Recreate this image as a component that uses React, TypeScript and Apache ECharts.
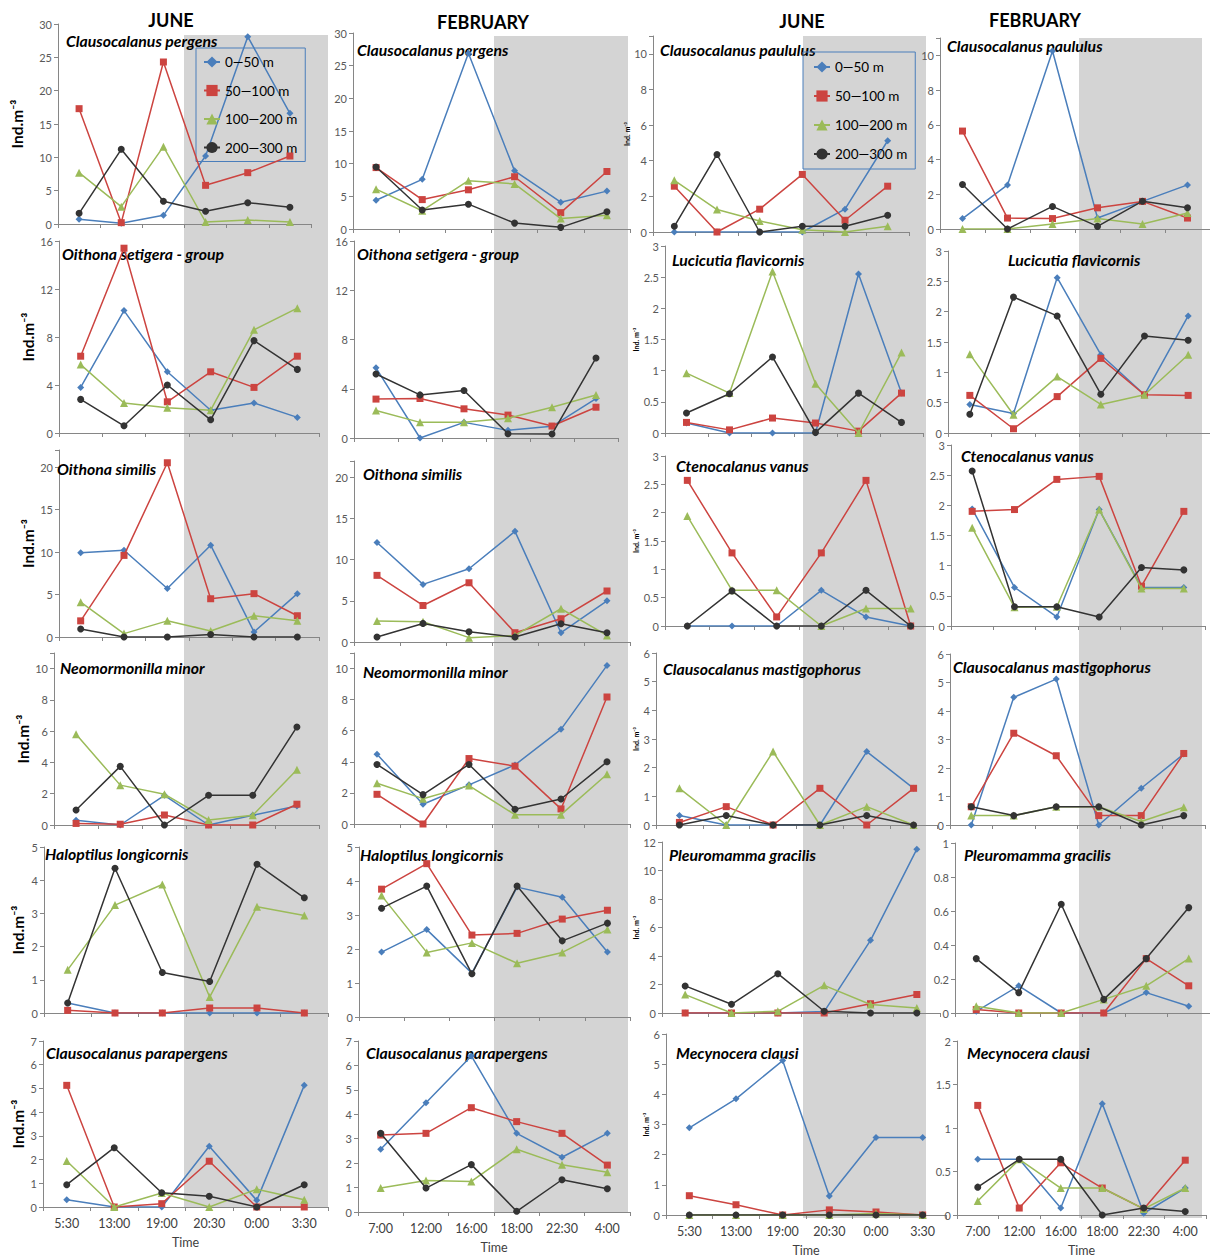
import React, { useEffect, useRef } from 'react';
import * as echarts from 'echarts';

const juneTimes = ['5:30', '13:00', '19:00', '20:30', '0:00', '3:30'];
const febTimes = ['7:00', '12:00', '16:00', '18:00', '22:30', '4:00'];
const depthLayers = ['0—50 m', '50—100 m', '100—200 m', '200—300 m'];
const monthHeaders = ['JUNE', 'FEBRUARY', 'JUNE', 'FEBRUARY'];

// each panel: rows = depth layers (0–50, 50–100, 100–200, 200–300 m)
const junClausocalanusPergens = [
  [0.7, 0.1, 1.3, 10.2, 28.1, 16.6],
  [17.3, 0.2, 24.3, 5.8, 7.7, 10.2],
  [7.7, 2.6, 11.6, 0.3, 0.6, 0.3],
  [1.6, 11.2, 3.4, 1.9, 3.2, 2.5],
];
const junOithonaSetigera = [
  [3.8, 10.2, 5.1, 1.9, 2.5, 1.3],
  [6.4, 15.4, 2.6, 5.1, 3.8, 6.4],
  [5.7, 2.5, 2.1, 1.9, 8.6, 10.4],
  [2.8, 0.6, 4.0, 1.1, 7.7, 5.3],
];
const junOithonaSimilis = [
  [9.9, 10.2, 5.7, 10.8, 0.6, 5.1],
  [1.9, 9.6, 20.5, 4.5, 5.1, 2.5],
  [4.1, 0.4, 1.9, 0.7, 2.5, 1.9],
  [0.95, 0, 0, 0.3, 0, 0],
];
const junNeomormonillaMinor = [
  [0.3, 0, 1.9, 0, 0.62, 1.22],
  [0.1, 0.05, 0.64, 0, 0, 1.33],
  [5.8, 2.55, 1.97, 0.32, 0.62, 3.53],
  [0.96, 3.75, 0, 1.9, 1.9, 6.27],
];
const junHaloptilusLongicornis = [
  [0.3, 0, 0, 0, 0, 0],
  [0.08, 0, 0, 0.15, 0.15, 0],
  [1.3, 3.25, 3.87, 0.48, 3.2, 2.94],
  [0.3, 4.36, 1.22, 0.95, 4.48, 3.47],
];
const junClausocalanusParapergens = [
  [0.31, 0, 0, 2.56, 0.28, 5.13],
  [5.13, 0, 0.14, 1.93, 0, 0],
  [1.94, 0, 0.59, 0, 0.75, 0.31],
  [0.94, 2.5, 0.6, 0.45, 0, 0.94],
];
const febClausocalanusPergens = [
  [4.4, 7.6, 26.9, 8.9, 4.1, 5.8],
  [9.4, 4.5, 6.0, 8.0, 2.5, 8.8],
  [6.1, 2.8, 7.4, 6.9, 1.6, 2.1],
  [9.5, 2.9, 3.8, 0.9, 0.25, 2.65],
];
const febOithonaSetigera = [
  [5.7, 0, 1.27, 0.62, 0.95, 3.2],
  [3.16, 3.21, 2.37, 1.86, 0.97, 2.5],
  [2.24, 1.27, 1.27, 1.6, 2.5, 3.5],
  [5.2, 3.5, 3.86, 0.35, 0.32, 6.5],
];
const febOithonaSimilis = [
  [12.1, 7.0, 8.9, 13.45, 1.13, 5.0],
  [8.1, 4.44, 7.2, 1.13, 2.83, 6.2],
  [2.55, 2.46, 0.53, 0.8, 4.04, 0.8],
  [0.6, 2.26, 1.25, 0.6, 2.22, 1.13],
];
const febNeomormonillaMinor = [
  [4.49, 1.27, 2.52, 3.8, 6.09, 10.2],
  [1.91, 0, 4.21, 3.72, 0.97, 8.17],
  [2.62, 1.63, 2.47, 0.6, 0.6, 3.2],
  [3.83, 1.89, 3.83, 0.95, 1.61, 4.0],
];
const febHaloptilusLongicornis = [
  [1.91, 2.57, 1.29, 3.82, 3.52, 1.91],
  [3.76, 4.51, 2.41, 2.46, 2.88, 3.14],
  [3.57, 1.9, 2.18, 1.58, 1.9, 2.57],
  [3.2, 3.85, 1.27, 3.85, 2.24, 2.76],
];
const febClausocalanusParapergens = [
  [2.57, 4.47, 6.39, 3.22, 2.24, 3.22],
  [3.15, 3.22, 4.27, 3.7, 3.22, 1.92],
  [0.98, 1.29, 1.25, 2.57, 1.93, 1.63],
  [3.22, 0.98, 1.94, 0.03, 1.32, 0.95],
];
const junClausocalanusPaululus = [
  [0, 0, 0, 0, 1.28, 5.12],
  [2.57, 0, 1.28, 3.23, 0.66, 2.57],
  [2.9, 1.26, 0.62, 0.13, 0, 0.32],
  [0.32, 4.35, 0, 0.32, 0.32, 0.94],
];
const junLucicutiaFlavicornis = [
  [0.16, 0, 0, 0, 2.55, 0.64],
  [0.17, 0.05, 0.24, 0.16, 0.03, 0.64],
  [0.96, 0.64, 2.59, 0.79, 0, 1.29],
  [0.32, 0.63, 1.22, 0.01, 0.64, 0.17],
];
const junCtenocalanusVanus = [
  [0, 0, 0, 0.63, 0.16, 0],
  [2.57, 1.29, 0.16, 1.29, 2.57, 0],
  [1.94, 0.63, 0.63, 0, 0.31, 0.31],
  [0, 0.62, 0, 0, 0.63, 0],
];
const junClausocalanusMastigophorus = [
  [0.33, 0, 0, 0, 2.56, 1.28],
  [0.09, 0.64, 0, 1.28, 0, 1.28],
  [1.28, 0, 2.56, 0, 0.64, 0],
  [0, 0.33, 0, 0, 0.33, 0],
];
const junPleuromammaGracilis = [
  [0, 0, 0, 0.1, 5.1, 11.5],
  [0, 0, 0, 0, 0.65, 1.3],
  [1.29, 0, 0.12, 1.94, 0.6, 0.35],
  [1.9, 0.61, 2.76, 0.12, 0, 0],
];
const junMecynoceraClausi = [
  [2.89, 3.85, 5.12, 0.63, 2.57, 2.57],
  [0.64, 0.34, 0, 0.17, 0.1, 0],
  [0, 0, 0, 0, 0.05, 0],
  [0, 0, 0, 0, 0, 0],
];
const febClausocalanusPaululus = [
  [0.6, 2.54, 10.25, 0.63, 1.59, 2.54],
  [5.64, 0.63, 0.6, 1.22, 1.59, 0.63],
  [0, 0, 0.29, 0.6, 0.29, 0.92],
  [2.56, 0, 1.3, 0.15, 1.6, 1.22],
];
const febLucicutiaFlavicornis = [
  [0.47, 0.32, 2.56, 1.29, 0.63, 1.93],
  [0.62, 0.07, 0.6, 1.23, 0.63, 0.62],
  [1.3, 0.3, 0.93, 0.47, 0.63, 1.29],
  [0.31, 2.24, 1.93, 0.64, 1.6, 1.53],
];
const febCtenocalanusVanus = [
  [1.94, 0.64, 0.15, 1.93, 0.64, 0.64],
  [1.9, 1.93, 2.43, 2.48, 0.66, 1.9],
  [1.63, 0.31, 0.32, 1.93, 0.62, 0.62],
  [2.57, 0.32, 0.32, 0.15, 0.97, 0.93],
];
const febClausocalanusMastigophorus = [
  [0, 4.48, 5.12, 0, 1.29, 2.49],
  [0.64, 3.22, 2.43, 0.33, 0.33, 2.51],
  [0.33, 0.33, 0.64, 0.64, 0.12, 0.62],
  [0.64, 0.33, 0.64, 0.64, 0, 0.33],
];
const febPleuromammaGracilis = [
  [0.01, 0.16, 0, 0, 0.12, 0.04],
  [0.02, 0, 0, 0, 0.32, 0.16],
  [0.04, 0, 0, 0.08, 0.16, 0.32],
  [0.32, 0.12, 0.64, 0.08, 0.32, 0.62],
];
const febMecynoceraClausi = [
  [0.64, 0.64, 0.08, 1.28, 0.02, 0.31],
  [1.26, 0.08, 0.6, 0.31, 0.07, 0.63],
  [0.16, 0.64, 0.31, 0.31, 0.07, 0.31],
  [0.32, 0.64, 0.64, 0, 0.08, 0.04],
];

// layout: g = [left, top, right, bottom] of the plot area
const panels = [
  { d: junClausocalanusPergens, n: 'Clausocalanus pergens', t: juneTimes, g: [58, 24, 311, 224], max: 30, step: 5, tx: 66, ty: 40, yl: 'big', gap: 33 },
  { d: junOithonaSetigera, n: 'Oithona setigera - group', t: juneTimes, g: [59, 241, 319, 433], max: 16, step: 4, tx: 62, ty: 253, yl: 'big', gap: 23 },
  { d: junOithonaSimilis, n: 'Oithona similis', t: juneTimes, g: [59, 450, 319, 637], max: 22, step: 5, tx: 57, ty: 468, yl: 'big', gap: 23 },
  { d: junNeomormonillaMinor, n: 'Neomormonilla minor', t: juneTimes, g: [54, 653, 319, 825], max: 11, step: 2, tx: 60, ty: 667, yl: 'big', gap: 23 },
  { d: junHaloptilusLongicornis, n: 'Haloptilus longicornis', t: juneTimes, g: [44, 847, 328, 1013], max: 5, step: 1, tx: 45, ty: 853, yl: 'big', gap: 18 },
  { d: junClausocalanusParapergens, n: 'Clausocalanus parapergens', t: juneTimes, g: [43, 1041, 328, 1207], max: 7, step: 1, tx: 46, ty: 1052, yl: 'big', gap: 17, bottom: true },

  { d: febClausocalanusPergens, n: 'Clausocalanus pergens', t: febTimes, g: [353, 33, 630, 229], max: 30, step: 5, tx: 357, ty: 49 },
  { d: febOithonaSetigera, n: 'Oithona setigera - group', t: febTimes, g: [354, 241, 618, 438], max: 16, step: 4, tx: 357, ty: 253 },
  { d: febOithonaSimilis, n: 'Oithona similis', t: febTimes, g: [354, 461, 630, 642], max: 22, step: 5, tx: 363, ty: 473 },
  { d: febNeomormonillaMinor, n: 'Neomormonilla minor', t: febTimes, g: [354, 653, 630, 824], max: 11, step: 2, tx: 363, ty: 671 },
  { d: febHaloptilusLongicornis, n: 'Haloptilus longicornis', t: febTimes, g: [359, 847, 630, 1017], max: 5, step: 1, tx: 360, ty: 854 },
  { d: febClausocalanusParapergens, n: 'Clausocalanus parapergens', t: febTimes, g: [358, 1041, 630, 1212], max: 7, step: 1, tx: 366, ty: 1052, bottom: true },

  { d: junClausocalanusPaululus, n: 'Clausocalanus paululus', t: juneTimes, g: [653, 36, 909, 232], max: 11, step: 2, tx: 660, ty: 49, yl: 'small', gap: 14 },
  { d: junLucicutiaFlavicornis, n: 'Lucicutia flavicornis', t: juneTimes, g: [665, 246, 923, 433], max: 3, step: 0.5, tx: 672, ty: 259, yl: 'small', gap: 26 },
  { d: junCtenocalanusVanus, n: 'Ctenocalanus vanus', t: juneTimes, g: [665, 456, 933, 626], max: 3, step: 0.5, tx: 676, ty: 465, yl: 'small', gap: 26 },
  { d: junClausocalanusMastigophorus, n: 'Clausocalanus mastigophorus', t: juneTimes, g: [656, 653, 937, 825], max: 6, step: 1, tx: 663, ty: 668, yl: 'small', gap: 16 },
  { d: junPleuromammaGracilis, n: 'Pleuromamma gracilis', t: juneTimes, g: [662, 842, 940, 1013], max: 12, step: 2, tx: 669, ty: 854, yl: 'small', gap: 23 },
  { d: junMecynoceraClausi, n: 'Mecynocera clausi', t: juneTimes, g: [666, 1034, 946, 1218], max: 6, step: 1, tx: 676, ty: 1052, yl: 'small', gap: 17, bottom: true },

  { d: febClausocalanusPaululus, n: 'Clausocalanus paululus', t: febTimes, g: [940, 38, 1210, 229], max: 11, step: 2, tx: 947, ty: 45 },
  { d: febLucicutiaFlavicornis, n: 'Lucicutia flavicornis', t: febTimes, g: [948, 251, 1213, 433], max: 3, step: 0.5, tx: 1008, ty: 259 },
  { d: febCtenocalanusVanus, n: 'Ctenocalanus vanus', t: febTimes, g: [951, 445, 1205, 626], max: 3, step: 0.5, tx: 961, ty: 455 },
  { d: febClausocalanusMastigophorus, n: 'Clausocalanus mastigophorus', t: febTimes, g: [950, 654, 1205, 825], max: 6, step: 1, tx: 953, ty: 666 },
  { d: febPleuromammaGracilis, n: 'Pleuromamma gracilis', t: febTimes, g: [955, 843, 1212, 1013], max: 1, step: 0.2, tx: 964, ty: 854 },
  { d: febMecynoceraClausi, n: 'Mecynocera clausi', t: febTimes, g: [957, 1041, 1206, 1218], max: 2, step: 0.5, tx: 967, ty: 1052, bottom: true },
];

const headerPos = [[171, 20], [483, 22], [802, 21], [1035, 20]];
const nightShade = [[184, 35, 328, 1207], [494, 36, 628, 1213], [803, 36, 926, 1218], [1079, 38, 1202, 1218]];

const layerColors = ['#4a7ebb', '#cc4440', '#9bbb59', '#333333'];
const layerSymbols = ['diamond', 'rect', 'triangle', 'circle'];
const layerSizes = [7, 7, 8, 7];

const FONT = 'Lato, "Open Sans", sans-serif';

export default function App() {
  const ref = useRef<HTMLDivElement>(null);
  useEffect(() => {
    if (!ref.current) return;
    const chart = echarts.init(ref.current, undefined, { renderer: 'svg' });

    const grid = panels.map((p) => ({
      left: p.g[0], top: p.g[1], width: p.g[2] - p.g[0], height: p.g[3] - p.g[1], containLabel: false,
    }));

    const xAxis = panels.map((p, i) => ({
      type: 'category', gridIndex: i, data: p.t, boundaryGap: true,
      axisLine: { lineStyle: { color: '#868686', width: 1 } },
      axisTick: { show: true, length: 4, interval: 0, lineStyle: { color: '#868686' } },
      axisLabel: { show: !!p.bottom, interval: 0, hideOverlap: false, color: '#404040', fontSize: 12.5, margin: 10, fontFamily: FONT },
      name: p.bottom ? 'Time' : '', nameLocation: 'middle', nameGap: 29,
      nameTextStyle: { color: '#404040', fontSize: 12.5, fontFamily: FONT },
      splitLine: { show: false },
    }));

    const yAxis = panels.map((p, i) => ({
      type: 'value', gridIndex: i, min: 0, max: p.max, interval: p.step,
      axisLine: { show: true, lineStyle: { color: '#868686', width: 1 } },
      axisTick: { show: true, length: 4, lineStyle: { color: '#868686' } },
      splitLine: { show: false },
      axisLabel: {
        color: '#595959', fontSize: 11, margin: 6, fontFamily: FONT,
        formatter: (v: number) => {
          const r = v / p.step;
          return Math.abs(r - Math.round(r)) < 1e-6 ? String(Math.round(v * 100) / 100) : '';
        },
      },
      name: p.yl === 'big' ? 'Ind.m⁻³' : p.yl === 'small' ? 'Ind. m⁻³' : '',
      nameLocation: 'middle', nameRotate: 90, nameGap: p.gap || 20,
      nameTextStyle: p.yl === 'big'
        ? { fontSize: 15.5, fontWeight: 'bold', color: '#000', fontFamily: FONT }
        : { fontSize: 7, fontWeight: 'bold', color: '#000', fontFamily: FONT },
    }));

    const series: any[] = [];
    panels.forEach((p, i) => {
      p.d.forEach((vals, k) => {
        series.push({
          type: 'line', name: depthLayers[k], xAxisIndex: i, yAxisIndex: i, data: vals,
          symbol: layerSymbols[k], symbolSize: layerSizes[k],
          lineStyle: { width: 1.5, color: layerColors[k] },
          itemStyle: { color: layerColors[k] },
          z: 3 + k,
        });
      });
    });

    const graphics: any[] = [];
    nightShade.forEach((r) => {
      graphics.push({ type: 'rect', silent: true, z: -10, shape: { x: r[0], y: r[1], width: r[2] - r[0], height: r[3] - r[1] }, style: { fill: '#d4d4d4' } });
    });
    monthHeaders.forEach((h, i) => {
      graphics.push({ type: 'text', z: 1, x: headerPos[i][0], y: headerPos[i][1], style: { text: h, font: `bold 18px ${FONT}`, fill: '#000', align: 'center', verticalAlign: 'middle', textAlign: 'center', textVerticalAlign: 'middle' } });
    });
    panels.forEach((p) => {
      graphics.push({ type: 'text', z: 1, x: p.tx, y: p.ty, style: { text: p.n, font: `italic bold 15.8px ${FONT}`, fill: '#000', align: 'left', verticalAlign: 'middle', textAlign: 'left', textVerticalAlign: 'middle' } });
    });

    const legendBase = {
      orient: 'vertical', data: depthLayers, selectedMode: false,
      borderColor: '#4a7ebb', borderWidth: 1, itemHeight: 14,
      textStyle: { fontSize: 13.5, color: '#000', fontFamily: FONT },
    };

    chart.setOption({
      animation: false,
      backgroundColor: '#ffffff',
      textStyle: { fontFamily: FONT },
      grid, xAxis, yAxis, series,
      graphic: { elements: graphics },
      legend: [
        { ...legendBase, left: 196, top: 48, itemWidth: 16, itemGap: 14.5, padding: [7, 8, 7, 7] },
        { ...legendBase, left: 803, top: 52, itemWidth: 16, itemGap: 15, padding: [8, 8, 8, 10] },
      ],
    });
    return () => chart.dispose();
  }, []);
  return <div ref={ref} style={{ position: 'absolute', left: 0, top: 0, width: 1210, height: 1258, background: '#fff' }} />;
}
